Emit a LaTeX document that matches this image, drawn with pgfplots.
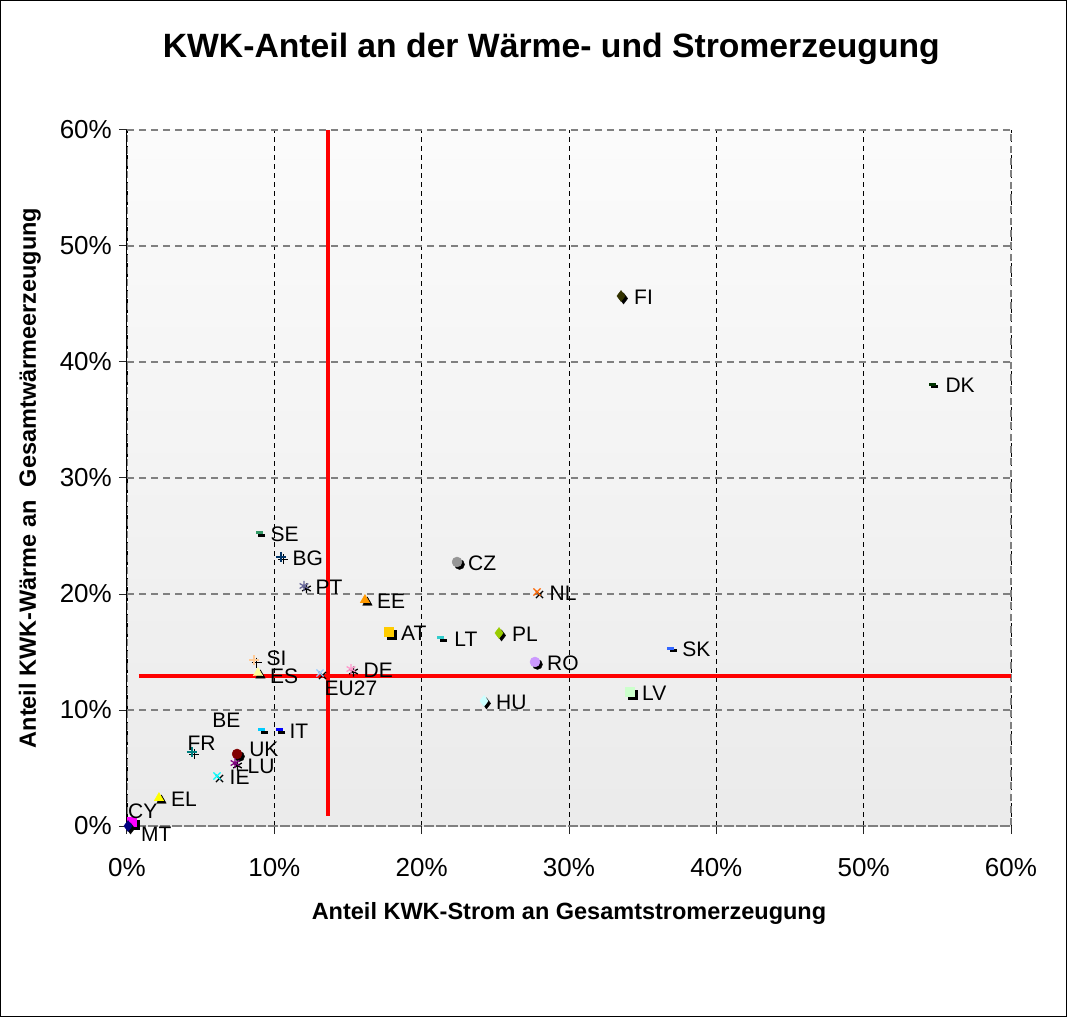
\documentclass[border=0pt]{standalone}
\usepackage{pgfplots}
\pgfplotsset{compat=1.18}
\usepackage{fontspec}
\setmainfont{Liberation Sans}
\definecolor{cSE}{HTML}{339966}
\definecolor{cBG}{HTML}{003366}
\definecolor{cPT}{HTML}{666699}
\definecolor{cEE}{HTML}{FF9900}
\definecolor{cAT}{HTML}{FFCC00}
\definecolor{cSI}{HTML}{FFCC99}
\definecolor{cES}{HTML}{FFFF99}
\definecolor{cEU}{HTML}{99CCFF}
\definecolor{cDE}{HTML}{FF99CC}
\definecolor{cCZ}{HTML}{969696}
\definecolor{cNL}{HTML}{FF6600}
\definecolor{cLT}{HTML}{33CCCC}
\definecolor{cPL}{HTML}{99CC00}
\definecolor{cRO}{HTML}{CC99FF}
\definecolor{cHU}{HTML}{CCFFFF}
\definecolor{cLV}{HTML}{CCFFCC}
\definecolor{cSK}{HTML}{3366FF}
\definecolor{cFI}{HTML}{333300}
\definecolor{cDK}{HTML}{003300}
\definecolor{cIT}{HTML}{0000FF}
\definecolor{cBE}{HTML}{00CCFF}
\definecolor{cFR}{HTML}{008080}
\definecolor{cUK}{HTML}{800000}
\definecolor{cLU}{HTML}{800080}
\definecolor{cIE}{HTML}{00FFFF}
\definecolor{cEL}{HTML}{FFFF00}
\definecolor{cCY}{HTML}{FF00FF}
\definecolor{cMT}{HTML}{000080}

\pgfplotsset{
  mdash/.style={mark=-, mark size=3.5pt, line width=3pt},
  mplus/.style={mark=+, mark size=5pt, line width=1.3pt},
  mast/.style={mark=asterisk, mark size=5pt, line width=1.3pt},
  mx/.style={mark=x, mark size=5pt, line width=1.3pt},
  mtri/.style={mark=triangle*, mark size=5.5pt},
  msq/.style={mark=square*, mark size=4.5pt},
  mcirc/.style={mark=*, mark size=5pt},
  mdia/.style={mark=diamond*, mark size=5.5pt},
}
\newcommand{\cty}[7]{%
 \addplot[only marks, #1, color=black, mark options={draw=black, fill=black, xshift=2.5pt, yshift=-2.5pt}] coordinates {(#3,#4)};
 \addplot[only marks, #1, color=#2, mark options={draw=#2, fill=#2}, nodes near coords={#5}, every node near coord/.append style={xshift=#6, yshift=#7}] coordinates {(#3,#4)};
}

\begin{document}
\begin{tikzpicture}
\draw[black, line width=1pt] (0.5pt,0.5pt) rectangle (1066.5pt,1016.5pt);
\begin{axis}[
  at={(127pt,191pt)}, anchor=south west,
  scale only axis, width=884pt, height=696pt,
  xmin=0, xmax=60, ymin=0, ymax=60,
  clip=false,
  axis background/.style={top color=gray!3, bottom color=gray!16},
  xtick={0,10,...,60}, ytick={0,10,...,60},
  /pgf/number format/assume math mode=true,
  xticklabel={\pgfmathprintnumber{\tick}\%},
  yticklabel={\pgfmathprintnumber{\tick}\%},
  ticklabel style={font=\fontsize{26}{26}\selectfont},
  xticklabel style={anchor=north, inner sep=0pt, yshift=-24pt},
  yticklabel style={anchor=east, inner sep=0pt, xshift=-7pt},
  tick align=outside, ytick pos=left, xtick pos=bottom,
  major tick length=8pt,
  tick style={black!85, line width=1pt},
  grid=major,
  major x grid style={black, dash pattern=on 5pt off 4pt, line width=0.8pt},
  major y grid style={gray, dash pattern=on 7pt off 5pt, line width=1.6pt},
  axis line style={gray, dash pattern=on 7pt off 5pt, line width=1.6pt},
  title={KWK-Anteil an der Wärme- und Stromerzeugung},
  title style={font=\bfseries\fontsize{33.7}{34}\selectfont, at={(axis description cs:0.48,1.108)}, anchor=center},
  xlabel={Anteil KWK-Strom an Gesamtstromerzeugung},
  ylabel={Anteil KWK-Wärme an\ \ Gesamtwärmeerzeugung},
  label style={font=\bfseries\fontsize{23.5}{24}\selectfont},
  xlabel style={at={(axis description cs:0.5,-0.125)}, anchor=center},
  ylabel style={at={(axis description cs:-0.11,0.5)}, anchor=center},
  every node near coord/.append style={anchor=west, inner sep=0pt, text=black, font=\fontsize{21}{21}\selectfont},
]
\draw[black, line width=1pt] (rel axis cs:0,0) -- (rel axis cs:0,1);
\cty{mdash}{cSE}{8.96}{25.26}{SE}{10pt}{-1pt}
\cty{mplus}{cBG}{10.45}{23.19}{BG}{11pt}{-1pt}
\cty{mast}{cPT}{12.01}{20.69}{PT}{11pt}{-1pt}
\cty{mtri}{cEE}{16.15}{19.48}{EE}{12pt}{-1pt}
\cty{msq}{cAT}{17.78}{16.72}{AT}{12pt}{-1pt}
\cty{mplus}{cSI}{8.62}{14.31}{SI}{12pt}{2pt}
\cty{mtri}{cES}{8.89}{13.19}{ES}{12pt}{-3pt}
\cty{mx}{cEU}{13.10}{13.19}{EU27}{4pt}{-15pt}
\cty{mast}{cDE}{15.20}{13.53}{DE}{12pt}{-1pt}
\cty{mcirc}{cCZ}{22.40}{22.76}{CZ}{11pt}{-1pt}
\cty{mx}{cNL}{27.83}{20.17}{NL}{12pt}{-1pt}
\cty{mdash}{cLT}{21.31}{16.21}{LT}{12pt}{-1pt}
\cty{mdia}{cPL}{25.25}{16.64}{PL}{13pt}{-1pt}
\cty{mcirc}{cRO}{27.69}{14.14}{RO}{12pt}{-1pt}
\cty{mdia}{cHU}{24.23}{10.78}{HU}{12pt}{-1pt}
\cty{msq}{cLV}{34.14}{11.55}{LV}{12pt}{-1pt}
\cty{mdash}{cSK}{36.92}{15.34}{SK}{10pt}{-1pt}
\cty{mdia}{cFI}{33.53}{45.69}{FI}{13pt}{-1pt}
\cty{mdash}{cDK}{54.64}{38.10}{DK}{12pt}{-1pt}
\cty{mdash}{cIT}{10.32}{8.28}{IT}{9pt}{-1pt}
\cty{mdash}{cBE}{9.16}{8.28}{BE}{-51pt}{10pt}
\cty{mplus}{cFR}{4.41}{6.38}{FR}{-5pt}{9pt}
\cty{mcirc}{cUK}{7.47}{6.21}{UK}{12pt}{5pt}
\cty{mast}{cLU}{7.33}{5.43}{LU}{12pt}{-3pt}
\cty{mx}{cIE}{6.11}{4.31}{IE}{12pt}{-1pt}
\cty{mtri}{cEL}{2.17}{2.41}{EL}{12pt}{-1pt}
\cty{msq}{cCY}{0.34}{0.34}{CY}{-4pt}{11pt}
\cty{mdia}{cMT}{0.07}{0.0}{MT}{13pt}{-8pt}
\addplot[red, line width=4pt] coordinates {(13.64,0.9) (13.64,60)};
\addplot[red, line width=4pt] coordinates {(0.8,12.93) (60,12.93)};
\end{axis}
\end{tikzpicture}
\end{document}
